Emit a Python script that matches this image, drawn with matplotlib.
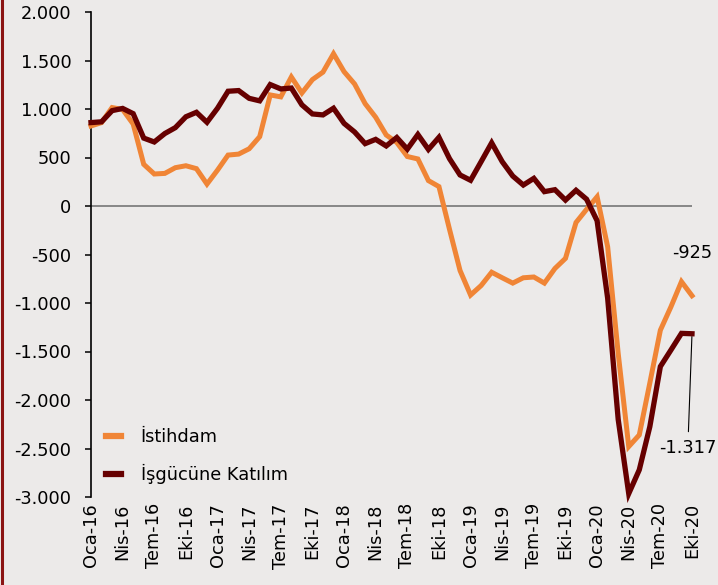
import matplotlib
matplotlib.use("Agg")
import matplotlib.pyplot as plt
from matplotlib.lines import Line2D
from matplotlib.ticker import FuncFormatter, FixedLocator

# ---- data ----
months = ["Oca", "Şub", "Mar", "Nis", "May", "Haz", "Tem", "Ağu", "Eyl", "Eki", "Kas", "Ara"]
years = ["16", "17", "18", "19", "20"]
istihdam = [825, 860, 1015, 995, 845, 430, 330, 336, 395, 415, 385, 226,
            370, 525, 535, 590, 715, 1145, 1125, 1330, 1165, 1303, 1380, 1570,
            1385, 1258, 1055, 915, 732, 655, 510, 485, 262, 200, -240, -665,
            -918, -820, -683, -740, -795, -740, -732, -795, -644, -540, -170, -35,
            95, -420, -1520, -2480, -2360, -1825, -1280, -1040, -780, -925]
katilim = [860, 868, 983, 1006, 952, 700, 660, 747, 808, 920, 966, 863,
           1008, 1183, 1190, 1110, 1084, 1252, 1207, 1216, 1043, 949, 939, 1008,
           852, 763, 643, 687, 619, 706, 586, 737, 583, 708, 488, 320,
           265, 457, 651, 457, 309, 216, 285, 148, 168, 61, 162, 70,
           -152, -950, -2200, -2965, -2720, -2275, -1655, -1485, -1313, -1317]
series_names = ["İstihdam", "İşgücüne Katılım"]
colors = ["#F08536", "#660000"]

labels_all = [f"{m}-{y}" for y in years for m in months][:len(istihdam)]
tick_idx = list(range(0, len(istihdam), 3))
tick_labels = [labels_all[i] for i in tick_idx]
y_ticks = [2000, 1500, 1000, 500, 0, -500, -1000, -1500, -2000, -2500, -3000]

bg = "#ECEAE9"
W, H = 718, 585
fig = plt.figure(figsize=(W / 100, H / 100), dpi=100, facecolor=bg)
ax = fig.add_axes([91 / W, 1 - 497 / H, (692 - 91) / W, (497 - 12) / H])
ax.set_facecolor(bg)

x = list(range(len(istihdam)))
ax.axhline(0, color="#7F7F7F", lw=1.3, zorder=1)
ax.plot(x, istihdam, color=colors[0], lw=3.6, zorder=3, clip_on=False, solid_joinstyle="miter")
ax.plot(x, katilim, color=colors[1], lw=3.8, zorder=4, clip_on=False, solid_joinstyle="miter")

ax.set_xlim(0, len(istihdam) - 1)
ax.set_ylim(-3000, 2000)
ax.yaxis.set_major_locator(FixedLocator(y_ticks))
ax.yaxis.set_major_formatter(FuncFormatter(lambda v, p: f"{v:,.0f}".replace(",", ".")))
ax.set_xticks(tick_idx)
ax.set_xticklabels(tick_labels, rotation=90)

for s in ["top", "right", "bottom"]:
    ax.spines[s].set_visible(False)
ax.spines["left"].set_color("black")
ax.spines["left"].set_linewidth(1.2)
ax.tick_params(axis="y", direction="out", length=4.5, width=1.1, pad=9.5,
               labelsize=12.8, colors="black")
ax.tick_params(axis="x", length=0, pad=4.5, labelsize=12.8, colors="black")

# annotations of last values
n = len(istihdam) - 1
ax.annotate(f"{istihdam[n]:,}".replace(",", "."), xy=(n, istihdam[n]),
            xytext=(0, 24), textcoords="offset points", ha="center", va="bottom",
            fontsize=12.8, color="black", annotation_clip=False)
ax.annotate(f"{katilim[n]:,}".replace(",", "."), xy=(n, katilim[n]),
            xytext=(-3, -82), textcoords="offset points", ha="center", va="center",
            fontsize=12.8, color="black", annotation_clip=False,
            arrowprops=dict(arrowstyle="-", color="black", lw=0.8, shrinkA=3, shrinkB=2))

handles = [Line2D([], [], color=c, lw=4.5) for c in colors]
fig.legend(handles, series_names, loc="upper left",
           bbox_to_anchor=(106 / W, 1 - 428 / H), frameon=False,
           fontsize=12.8, handlelength=0.85, handletextpad=1.1,
           labelspacing=1.0, borderpad=0, borderaxespad=0)

fig.add_artist(Line2D([1.5 / W, 1.5 / W], [0, 1], transform=fig.transFigure,
                      color="#8B1414", lw=2.2))

fig.savefig("out.png", dpi=100, facecolor=bg)
